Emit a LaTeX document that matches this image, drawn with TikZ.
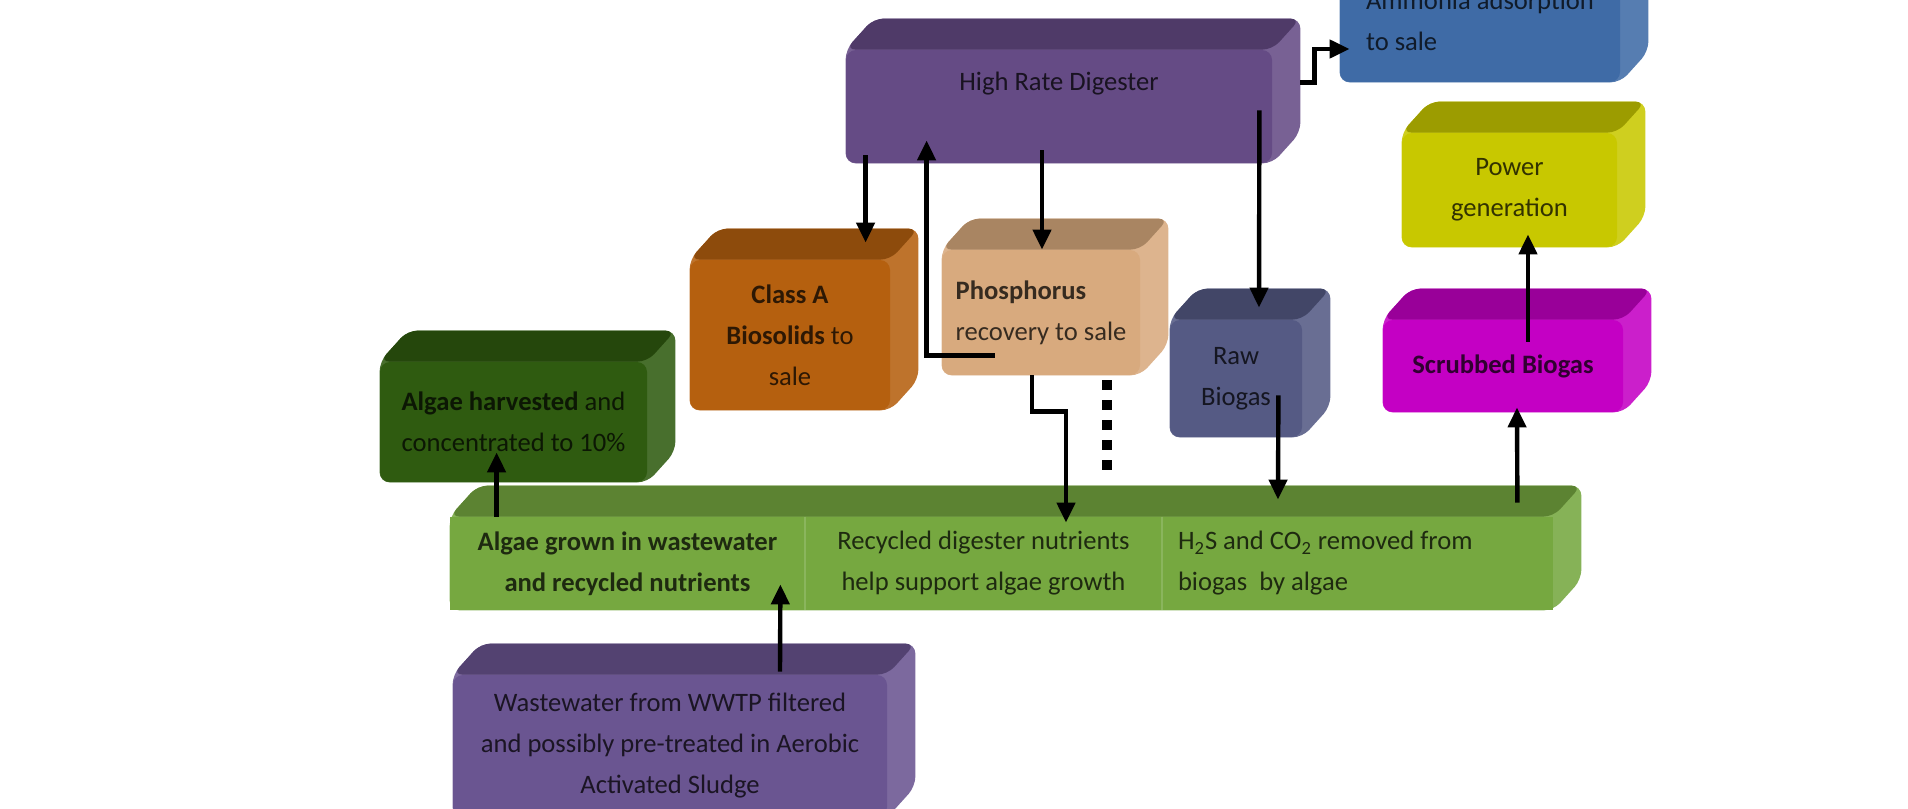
\documentclass[tikz,border=0pt]{standalone}
\usepackage{fontspec}
\setmainfont{Carlito}
\usetikzlibrary{arrows.meta,calc,backgrounds}
\definecolor{hrdc}{HTML}{654B85}
\definecolor{ammc}{HTML}{3F6BA6}
\definecolor{powc}{HTML}{C8C800}
\definecolor{clac}{HTML}{B5600F}
\definecolor{phoc}{HTML}{D8AA7E}
\definecolor{harc}{HTML}{2F5B10}
\definecolor{rawc}{HTML}{555A84}
\definecolor{scrc}{HTML}{C400C4}
\definecolor{grnc}{HTML}{76A840}
\definecolor{wasc}{HTML}{6A5591}

\begin{document}
\begin{tikzpicture}[x=0.5pt,y=-0.5pt,>={Triangle[length=10pt,width=9pt]},
  box/.style={fill=#1,text=#1!25!black,rounded corners=5pt,inner sep=0pt,align=center,
    font=\fontsize{13.3}{20.5}\selectfont},
  cell/.style={box=grnc,sharp corners,minimum height=46.5pt},
  flow/.style={->,line width=2.2pt}]
\useasboundingbox (0,0) rectangle (1908,809);

\node[box=hrdc,minimum width=213pt,minimum height=56.5pt,text height=9pt,text depth=25pt] (hrd) at (1059,106.5) {High Rate Digester};
\node[box=ammc,minimum width=140pt,minimum height=61pt,align=left] (amm) at (1480,21) {Ammonia adsorption\\to sale};
\node[box=powc,minimum width=107.5pt,minimum height=57pt] (pow) at (1509.5,190) {Power\\generation};
\node[box=clac,minimum width=100pt,minimum height=75pt] (cla) at (790,335) {\textbf{Class A}\\\textbf{Biosolids} to\\sale};
\node[box=phoc,minimum width=99pt,minimum height=62.5pt,align=left] (pho) at (1041,312.5) {\textbf{Phosphorus}\\recovery to sale};
\node[box=harc,minimum width=133.5pt,minimum height=60pt,align=left] (har) at (513.5,422) {\textbf{Algae harvested} and\\concentrated to 10\%};
\node[box=rawc,minimum width=66pt,minimum height=58.5pt] (raw) at (1236,378.5) {Raw\\Biogas};
\node[box=scrc,minimum width=120pt,minimum height=46pt] (scr) at (1503,366) {\textbf{Scrubbed Biogas}};
\node[cell,minimum width=177.5pt] (grow) at (627.5,563.5) {\textbf{Algae grown in wastewater}\\\textbf{and recycled nutrients}};
\node[cell,minimum width=178.5pt] (recy) at (983.5,563.5) {Recycled digester nutrients\\help support algae growth};
\node[cell,minimum width=195.5pt,text width=179.5pt,align=flush left] (hts) at (1357.5,563.5) {H\textsubscript{2}S and CO\textsubscript{2} removed from\\biogas\ \ by algae};
\node[box=wasc,minimum width=217pt,minimum height=71pt] (was) at (670,746) {Wastewater from WWTP filtered\\and possibly pre-treated in Aerobic\\Activated Sludge};

\begin{scope}[on background layer,rounded corners=5pt]
\foreach \n/\c in {hrd/hrdc,amm/ammc,pow/powc,cla/clac,pho/phoc,har/harc,raw/rawc,scr/scrc,was/wasc}{
  \fill[\c!88!white] (\n.south west) -- (\n.north west) -- ++(28,-31) -- ($(\n.north east)+(28,-31)$) -- ($(\n.south east)+(28,-31)$) -- (\n.south east) -- cycle;
  \fill[\c!78!black] (\n.north west) -- ++(28,-31) -- ($(\n.north east)+(28,-31)$) -- (\n.north east) -- cycle;
}
\fill[grnc!88!white] (grow.south west) -- (grow.north west) -- ++(28,-31) -- ($(hts.north east)+(28,-31)$) -- ($(hts.south east)+(28,-31)$) -- (hts.south east) -- cycle;
\fill[grnc!78!black] (grow.north west) -- ++(28,-31) -- ($(hts.north east)+(28,-31)$) -- (hts.north east) -- cycle;
\end{scope}
\draw[grnc!85!white,line width=1pt] (grow.north east) -- (grow.south east) (recy.north east) -- (recy.south east);

\draw[flow] ($(hrd.south west)+(20,-8)$) -- ($(cla.north west)+(176,-17)$);
\draw[flow] ($(pho.south west)+(53,-20)$) -| ($(hrd.south west)+(81,-23)$);
\draw[flow] ($(hrd.south)+(-17,-13)$) -- ($(pho.north)+(1,0)$);
\draw[flow] ($(hrd.south east)+(-13,-53)$) -- ($(raw.north)+(23,-12)$);
\draw[flow] ($(hrd.north east)+(28,33)$) -- ++(14,0) |- ($(amm.west)+(10,28)$);
\draw[flow] ($(pho.south)+(-9,0)$) -- ++(0,36) -| ($(recy.north)+(82.5,6)$);
\draw[flow] ($(raw.south east)+(-24,-42)$) -- ($(hts.north)+(-79.5,-17)$);
\draw[flow] ($(hts.north east)+(-36,-14)$) -- ($(scr.south)+(14,-5)$);
\draw[flow] ($(scr.north)+(25,22)$) -- ($(pow.south)+(18.5,-13)$);
\draw[flow] ($(grow.north west)+(47,0)$) -- ($(har.south west)+(117,-30)$);
\draw[flow] ($(was.north)+(110,-3)$) -- ($(grow.south east)+(-25,-26)$);
\coordinate (d1) at (1107,380);
\coordinate (d2) at (1107,478);
\draw[line width=5pt,dash pattern=on 5pt off 5pt] (d1) -- (d2);
\end{tikzpicture}
\end{document}
